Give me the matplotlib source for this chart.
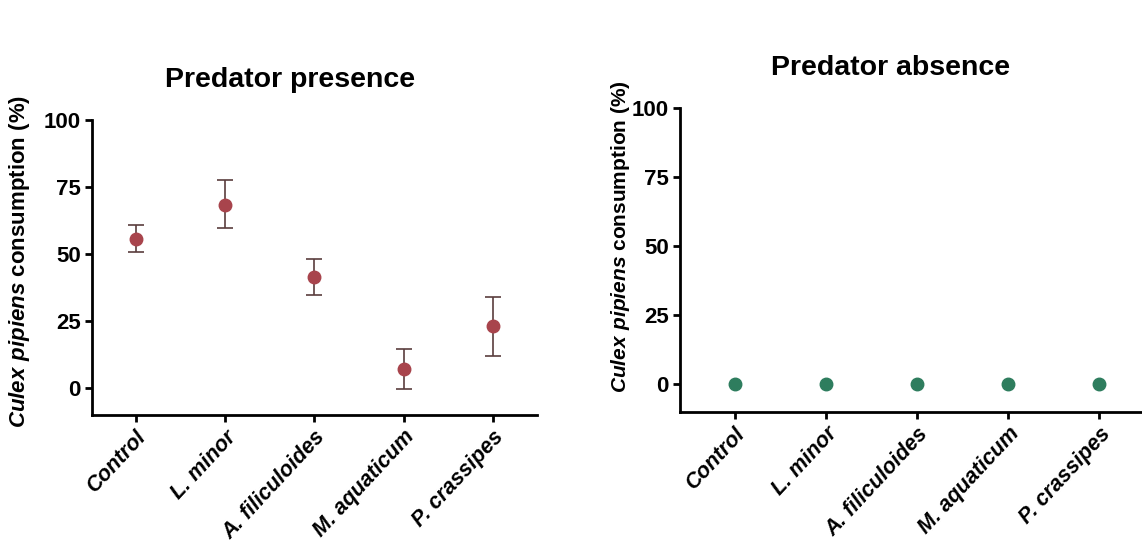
import matplotlib
matplotlib.use('Agg')
from matplotlib import pyplot as plt

plt.rcParams['font.family'] = ['Liberation Sans', 'DejaVu Sans']
plt.rcParams['mathtext.fontset'] = 'custom'
plt.rcParams['mathtext.bfit'] = 'Liberation Sans:bold:italic'
plt.rcParams['mathtext.rm'] = 'Liberation Sans:bold'

categories = ['Control', 'L. minor', 'A. filiculoides', 'M. aquaticum', 'P. crassipes']
presence_mean = [55.5, 68.5, 41.5, 7.0, 23.0]
presence_low = [50.8, 59.7, 34.7, -0.4, 11.8]
presence_high = [60.9, 77.6, 48.1, 14.6, 33.8]
absence_mean = [0, 0, 0, 0, 0]

ylabel = r'$\mathbfit{Culex\ pipiens}$ consumption (%)'


def style_axis(ax, title, label_size, title_x):
  ''' Prism-like look: left and bottom spines only '''
  for side in ['top', 'right']:
    ax.spines[side].set_visible(False)
  for side in ['left', 'bottom']:
    ax.spines[side].set_linewidth(2)
  ax.spines['left'].set_bounds(-10, 100)
  ax.set_ylim(-10, 100)
  ax.set_yticks([0, 25, 50, 75, 100])
  ax.tick_params(axis='both', width=2, length=5)
  ax.tick_params(axis='y', labelsize=16, pad=3)
  for lab in ax.get_yticklabels():
    lab.set_fontweight('bold')
  ax.set_xticks(range(len(categories)))
  ax.set_xticklabels(categories, rotation=47, ha='right', rotation_mode='anchor',
                     fontsize=15.5, fontweight='bold', fontstyle='italic')
  ax.set_ylabel(ylabel, fontsize=label_size, fontweight='bold')
  ax.set_title(title, fontsize=20.5, fontweight='bold', pad=24, x=title_x)


fig = plt.figure(figsize=(11.42, 5.59), dpi=100)

ax1 = fig.add_axes([0.0806, 0.258, 0.390, 0.527])
x = list(range(len(categories)))
yerr = [[m - lo for m, lo in zip(presence_mean, presence_low)],
        [hi - m for m, hi in zip(presence_mean, presence_high)]]
ax1.errorbar(x, presence_mean, yerr=yerr, fmt='o', color='#a8444c', ms=9,
             ecolor='#5a3d3d', elinewidth=1.2, capsize=6, capthick=1.2)
ax1.set_xlim(-0.49, 4.5)
style_axis(ax1, 'Predator presence', 16, 0.444)
ax1.yaxis.set_label_coords(-0.135, 0.52)

ax2 = fig.add_axes([0.5955, 0.2637, 0.4045, 0.543])
ax2.plot(x, absence_mean, 'o', color='#2e7d5e', ms=9)
ax2.set_xlim(-0.6, 4.47)
style_axis(ax2, 'Predator absence', 15, 0.455)
ax2.yaxis.set_label_coords(-0.104, 0.575)

plt.savefig('out.png', dpi=100)
